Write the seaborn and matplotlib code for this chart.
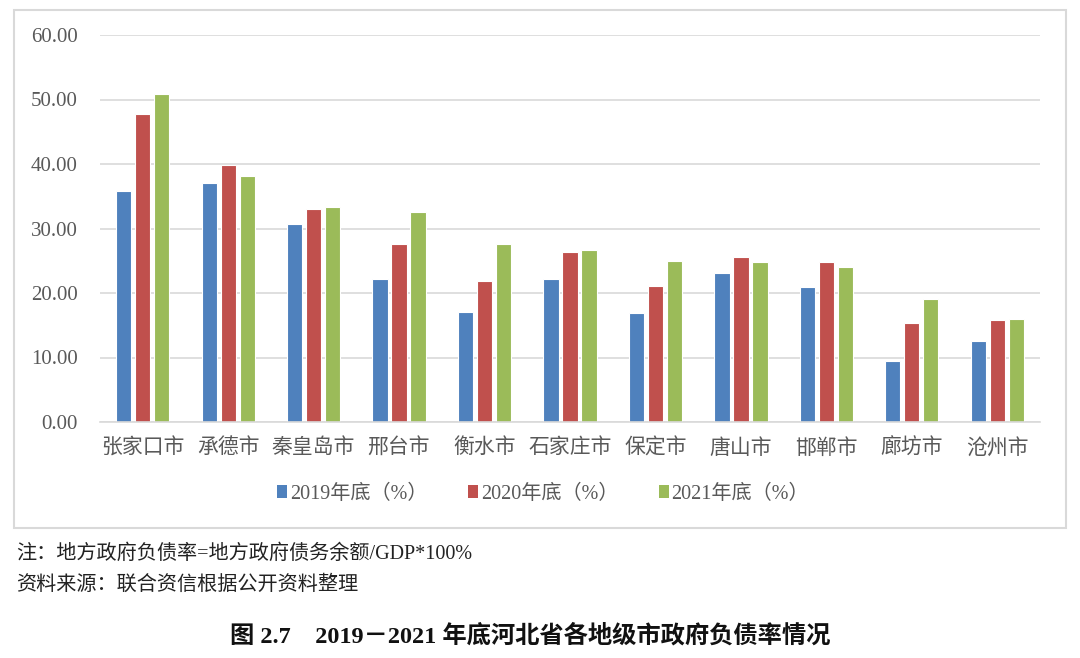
import pandas as pd
import matplotlib
import matplotlib.pyplot as plt
import seaborn as sns
from matplotlib.patches import Rectangle, Patch
from matplotlib.ticker import FormatStrFormatter

matplotlib.use('Agg')

# 数据：各地级市政府负债率（%）
cities = ['张家口市', '承德市', '秦皇岛市', '邢台市', '衡水市', '石家庄市',
          '保定市', '唐山市', '邯郸市', '廊坊市', '沧州市']
rate_2019 = [35.8, 37.0, 30.7, 22.1, 17.0, 22.1, 16.9, 23.1, 21.0, 9.4, 12.6]
rate_2020 = [47.8, 39.8, 33.0, 27.6, 21.9, 26.4, 21.1, 25.6, 24.8, 15.3, 15.8]
rate_2021 = [50.9, 38.2, 33.4, 32.6, 27.6, 26.7, 24.9, 24.8, 24.1, 19.1, 16.0]
series = ['2019年底（%）', '2020年底（%）', '2021年底（%）']
colors = ['#4F81BD', '#C0504D', '#9BBB59']

df = pd.DataFrame({
    '城市': cities * 3,
    '负债率': rate_2019 + rate_2020 + rate_2021,
    '年份': [series[0]] * 11 + [series[1]] * 11 + [series[2]] * 11,
})

sns.set_style('white')
fonts = ['Liberation Serif', 'Noto Sans CJK SC']
plt.rcParams['font.family'] = fonts

fig = plt.figure(figsize=(10.8, 6.58), dpi=100)
ax = fig.add_axes([100 / 1080, 1 - 422 / 658, 940 / 1080, 387 / 658])

sns.barplot(data=df, x='城市', y='负债率', hue='年份', palette=colors,
            saturation=1, width=0.667, gap=0.2, edgecolor='white', linewidth=0.8,
            legend=False, ax=ax)

ax.set_ylim(0, 60)
ax.set_yticks(range(0, 61, 10))
ax.yaxis.set_major_formatter(FormatStrFormatter('%.2f'))
ax.set_xlim(-0.5, 10.5)
ax.set_xlabel('')
ax.set_ylabel('')
ax.grid(axis='y', color='#D9D9D9', linewidth=1.2)
ax.set_axisbelow(True)
for s in ['top', 'right', 'left']:
    ax.spines[s].set_visible(False)
ax.spines['bottom'].set_color('#D9D9D9')
ax.spines['bottom'].set_linewidth(1.2)
ax.tick_params(axis='y', length=0, pad=16, labelsize=15, labelcolor='#595959')
ax.tick_params(axis='x', length=0, pad=12, labelsize=15, labelcolor='#595959')

# 图例
handles = [Patch(facecolor=c, edgecolor='none') for c in colors]
fig.legend(handles, series, loc='center', bbox_to_anchor=(543 / 1080, 1 - 494 / 658),
           ncol=3, frameon=False, fontsize=14.5, handlelength=0.5, handleheight=0.6,
           handletextpad=0.15, columnspacing=2.0, labelcolor='#595959')

# 外框
fig.patches.append(Rectangle((14 / 1080, 1 - 528 / 658), 1052 / 1080, 518 / 658,
                             transform=fig.transFigure, fill=False,
                             edgecolor='#D9D9D9', linewidth=1.5))

fig.text(16 / 1080, 1 - 554 / 658, '注：地方政府负债率=地方政府债务余额/GDP*100%',
         fontsize=14.5, va='center', ha='left', color='#222222')
fig.text(16 / 1080, 1 - 585 / 658, '资料来源：联合资信根据公开资料整理',
         fontsize=14.5, va='center', ha='left', color='#222222')
fig.text(530 / 1080, 1 - 636 / 658, '图 2.7    2019－2021 年底河北省各地级市政府负债率情况',
         fontsize=17.5, fontweight='bold', va='center', ha='center', color='#111111')

plt.savefig('out.png', dpi=100)
plt.close()
